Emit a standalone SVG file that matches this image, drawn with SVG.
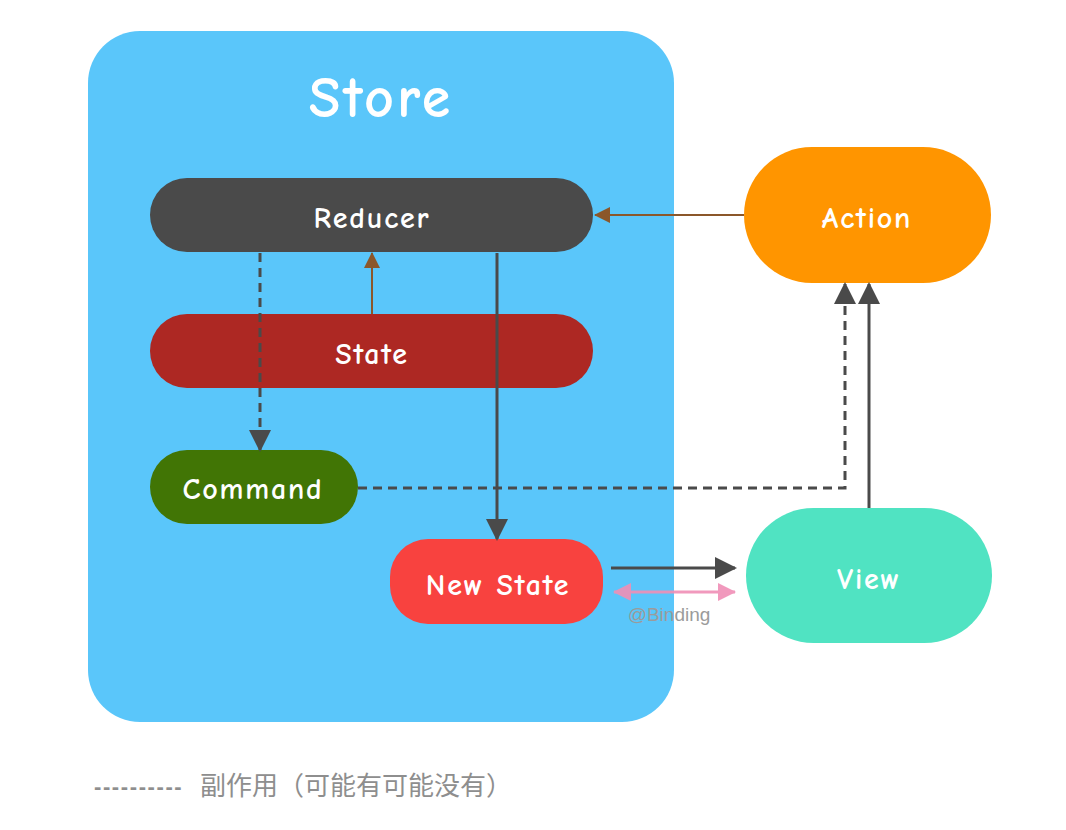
<svg xmlns="http://www.w3.org/2000/svg" width="1066" height="830" viewBox="0 0 1066 830">
<defs>
<style>
.lbl{font-family:"Comic Neue","DejaVu Sans","Noto Sans",sans-serif;fill:#fff;text-anchor:middle;dominant-baseline:central;font-size:30px;letter-spacing:1.8px;font-weight:bold}
.dark{stroke:#4a4a4a;stroke-width:3;fill:none}
.dash{stroke-dasharray:9 6}
.brown{stroke:#8b572a;stroke-width:2;fill:none}
.pink{stroke:#f08fb6;stroke-width:3;fill:none;opacity:0.9}
</style>
<marker id="ad" markerUnits="userSpaceOnUse" markerWidth="22" markerHeight="22" viewBox="0 0 22 22" refX="20" refY="11" orient="auto"><path d="M0,0 L22,11 L0,22 Z" fill="#4a4a4a"/></marker>
<marker id="ab" markerUnits="userSpaceOnUse" markerWidth="16" markerHeight="16" viewBox="0 0 16 16" refX="15" refY="8" orient="auto"><path d="M0,0 L16,8 L0,16 Z" fill="#8b572a"/></marker>
<marker id="ap" markerUnits="userSpaceOnUse" markerWidth="18" markerHeight="18" viewBox="0 0 18 18" refX="17" refY="9" orient="auto"><path d="M0,0 L18,9 L0,18 Z" fill="#f08fb6"/></marker>
<marker id="aps" markerUnits="userSpaceOnUse" markerWidth="18" markerHeight="18" viewBox="0 0 18 18" refX="1" refY="9" orient="auto"><path d="M18,0 L0,9 L18,18 Z" fill="#f08fb6"/></marker>
</defs>
<rect width="1066" height="830" fill="#fff"/>
<g id="store">
<rect x="88" y="31" width="586" height="691" rx="52" fill="#5ac6fa"/>
<text class="lbl" x="381" y="98" style="font-size:58px;letter-spacing:3px">Store</text>
</g>
<g id="reducer"><rect x="150" y="178" width="443" height="74" rx="37" fill="#4a4a4a"/><text class="lbl" x="372" y="218">Reducer</text></g>
<g id="state"><rect x="150" y="314" width="443" height="74" rx="37" fill="#ad2823"/><text class="lbl" x="372" y="354">State</text></g>
<g id="command"><rect x="150" y="450" width="208" height="74" rx="37" fill="#417505"/><text class="lbl" x="253" y="489">Command</text></g>
<g id="newstate"><rect x="390" y="539" width="213" height="85" rx="38" fill="#f8423f"/><text class="lbl" x="498" y="585">New State</text></g>
<g id="action"><rect x="744" y="147" width="247" height="136" rx="68" fill="#ff9500"/><text class="lbl" x="867" y="218">Action</text></g>
<g id="view"><rect x="746" y="508" width="246" height="135" rx="67.5" fill="#50e3c2"/><text class="lbl" x="869" y="579">View</text></g>
<g id="connectors">
<line class="brown" x1="744" y1="215" x2="595" y2="215" marker-end="url(#ab)"/>
<line class="brown" x1="372" y1="314" x2="372" y2="253" marker-end="url(#ab)"/>
<line class="dark dash" x1="260" y1="253" x2="260" y2="450" marker-end="url(#ad)"/>
<line class="dark" x1="497" y1="253" x2="497" y2="539" marker-end="url(#ad)"/>
<polyline class="dark dash" points="358,488 845,488 845,284" marker-end="url(#ad)"/>
<line class="dark" x1="869" y1="508" x2="869" y2="284" marker-end="url(#ad)"/>
<line class="dark" x1="611" y1="568" x2="735" y2="568" marker-end="url(#ad)"/>
<line class="pink" x1="614" y1="592" x2="735" y2="592" marker-start="url(#aps)" marker-end="url(#ap)"/>
<text x="669" y="614" font-family="'Liberation Sans',Arial,sans-serif" font-size="19" fill="#9b9b9b" text-anchor="middle" dominant-baseline="central">@Binding</text>
</g>
<g id="legend">
<text x="94" y="786" font-family="'Liberation Sans',Arial,sans-serif" font-size="22" font-weight="bold" letter-spacing="1.6" fill="#8e8e8e" dominant-baseline="central">----------</text>
<text x="200" y="786" font-family="'Liberation Sans','Noto Sans CJK SC',sans-serif" font-size="26" fill="#8e8e8e" dominant-baseline="central">副作用（可能有可能没有）</text>
</g>
</svg>
